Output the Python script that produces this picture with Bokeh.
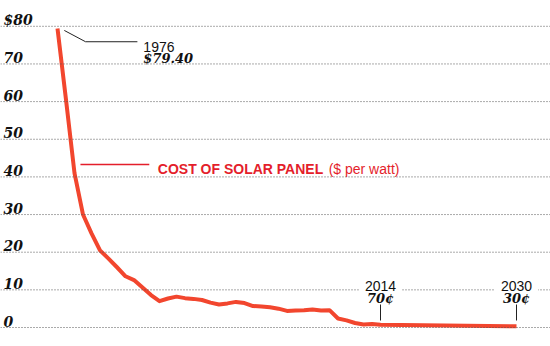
from bokeh.plotting import figure
from bokeh.models import Label, Span, ColumnDataSource
from bokeh.core.properties import value
from bokeh.embed import file_html
from bokeh.resources import INLINE

# ---- data ----
years = [1976, 1977, 1978, 1979, 1980, 1981, 1982, 1983, 1984, 1985,
         1986, 1987, 1988, 1989, 1990, 1991, 1992, 1993, 1994, 1995,
         1996, 1997, 1998, 1999, 2000, 2001, 2002, 2003, 2004, 2005,
         2006, 2007, 2008, 2009, 2010, 2011, 2012, 2013, 2014, 2030]
cost = [79.4, 60.5, 41.0, 30.0, 25.0, 20.5, 18.3, 16.0, 13.6, 12.6,
        10.6, 8.6, 7.0, 7.7, 8.2, 7.8, 7.6, 7.3, 6.6, 6.1,
        6.4, 6.8, 6.5, 5.7, 5.6, 5.4, 5.0, 4.4, 4.5, 4.6,
        4.8, 4.5, 4.6, 2.4, 1.9, 1.2, 0.8, 0.9, 0.7, 0.3]

y_ticks = [0, 10, 20, 30, 40, 50, 60, 70, 80]
y_tick_labels = ["0", "10", "20", "30", "40", "50", "60", "70", "$80"]

callouts_year = [2014, 2030]
callouts_top = ["2014", "2030"]
callouts_val = ["70\u00a2", "30\u00a2"]

# ---- layout ----
W, H = 550, 346
PX_YR = 8.5
PX_USD = 3.765
x0 = 1976 - 57 / PX_YR
x1 = x0 + W / PX_YR
y0 = -19 / PX_USD
y1 = 327 / PX_USD

def px_to_val(py):
    return (327 - py) / PX_USD

LINE_RED = "#F2462E"
TEXT_RED = "#E41E2B"
SERIF = "DejaVu Serif"
SANS = "Liberation Sans"

p = figure(width=W, height=H, x_range=(x0, x1), y_range=(y0, y1),
           output_backend="svg", toolbar_location=None,
           x_axis_location=None, y_axis_location=None,
           min_border=0, outline_line_color=None,
           background_fill_color="white", border_fill_color="white")
p.grid.visible = False

# dotted gridlines
for t in y_ticks:
    p.add_layout(Span(location=t, dimension="width", line_color="#555555",
                      line_width=1, line_dash="1 2"))

# tick labels
tick_src = ColumnDataSource(dict(x=[x0 + 3 / PX_YR] * len(y_ticks),
                                 y=[t + 6.5 / PX_USD for t in y_ticks],
                                 txt=y_tick_labels))
p.text(x="x", y="y", text="txt", source=tick_src,
       text_font=value(SERIF), text_font_style="bold italic",
       text_font_size="14px", text_color="#111111",
       text_baseline="alphabetic", text_align="left")

# main series
p.line(x=years, y=cost, line_color=LINE_RED, line_width=4,
       line_join="round", line_cap="butt")

# callouts for 2014 / 2030
for yr, top, val in zip(callouts_year, callouts_top, callouts_val):
    p.add_layout(Label(x=yr, y=px_to_val(285), text=top, text_font=SANS,
                       text_font_size="14px", text_color="#111111",
                       text_align="center", text_baseline="alphabetic",
                       background_fill_color="white", padding=6))
    p.add_layout(Label(x=yr, y=px_to_val(298), text=val, text_font=SERIF,
                       text_font_style="bold italic",
                       text_font_size="13px", text_color="#111111",
                       text_align="center", text_baseline="alphabetic"))
    p.line(x=[yr, yr], y=[px_to_val(320), px_to_val(304)],
           line_color="#222222", line_width=1)

# 1976 callout
p.line(x=[1976.8, 1979.3, 1985.4], y=[78.9, 75.9, 75.9],
       line_color="#222222", line_width=1)
p.add_layout(Label(x=1986.1, y=px_to_val(46), text="1976", text_font=SANS,
                   text_font_size="14px", text_color="#111111",
                   text_baseline="alphabetic"))
p.add_layout(Label(x=1986.1, y=px_to_val(57.5), text="$79.40", text_font=SERIF,
                   text_font_style="bold italic", text_font_size="13px",
                   text_color="#111111", text_baseline="alphabetic"))

# series label
p.line(x=[1978.7, 1986.8], y=[43.3, 43.3], line_color=TEXT_RED, line_width=1.5)
p.add_layout(Label(x=1987.8, y=px_to_val(168), text="COST OF SOLAR PANEL",
                   text_font=SANS, text_font_style="bold", text_font_size="14px",
                   text_color=TEXT_RED, text_baseline="alphabetic"))
p.add_layout(Label(x=2007.9, y=px_to_val(168), text="($ per watt)", text_font=SANS,
                   text_font_size="14px", text_color=TEXT_RED,
                   text_baseline="alphabetic"))

open("out.html", "w").write(file_html(p, INLINE))
